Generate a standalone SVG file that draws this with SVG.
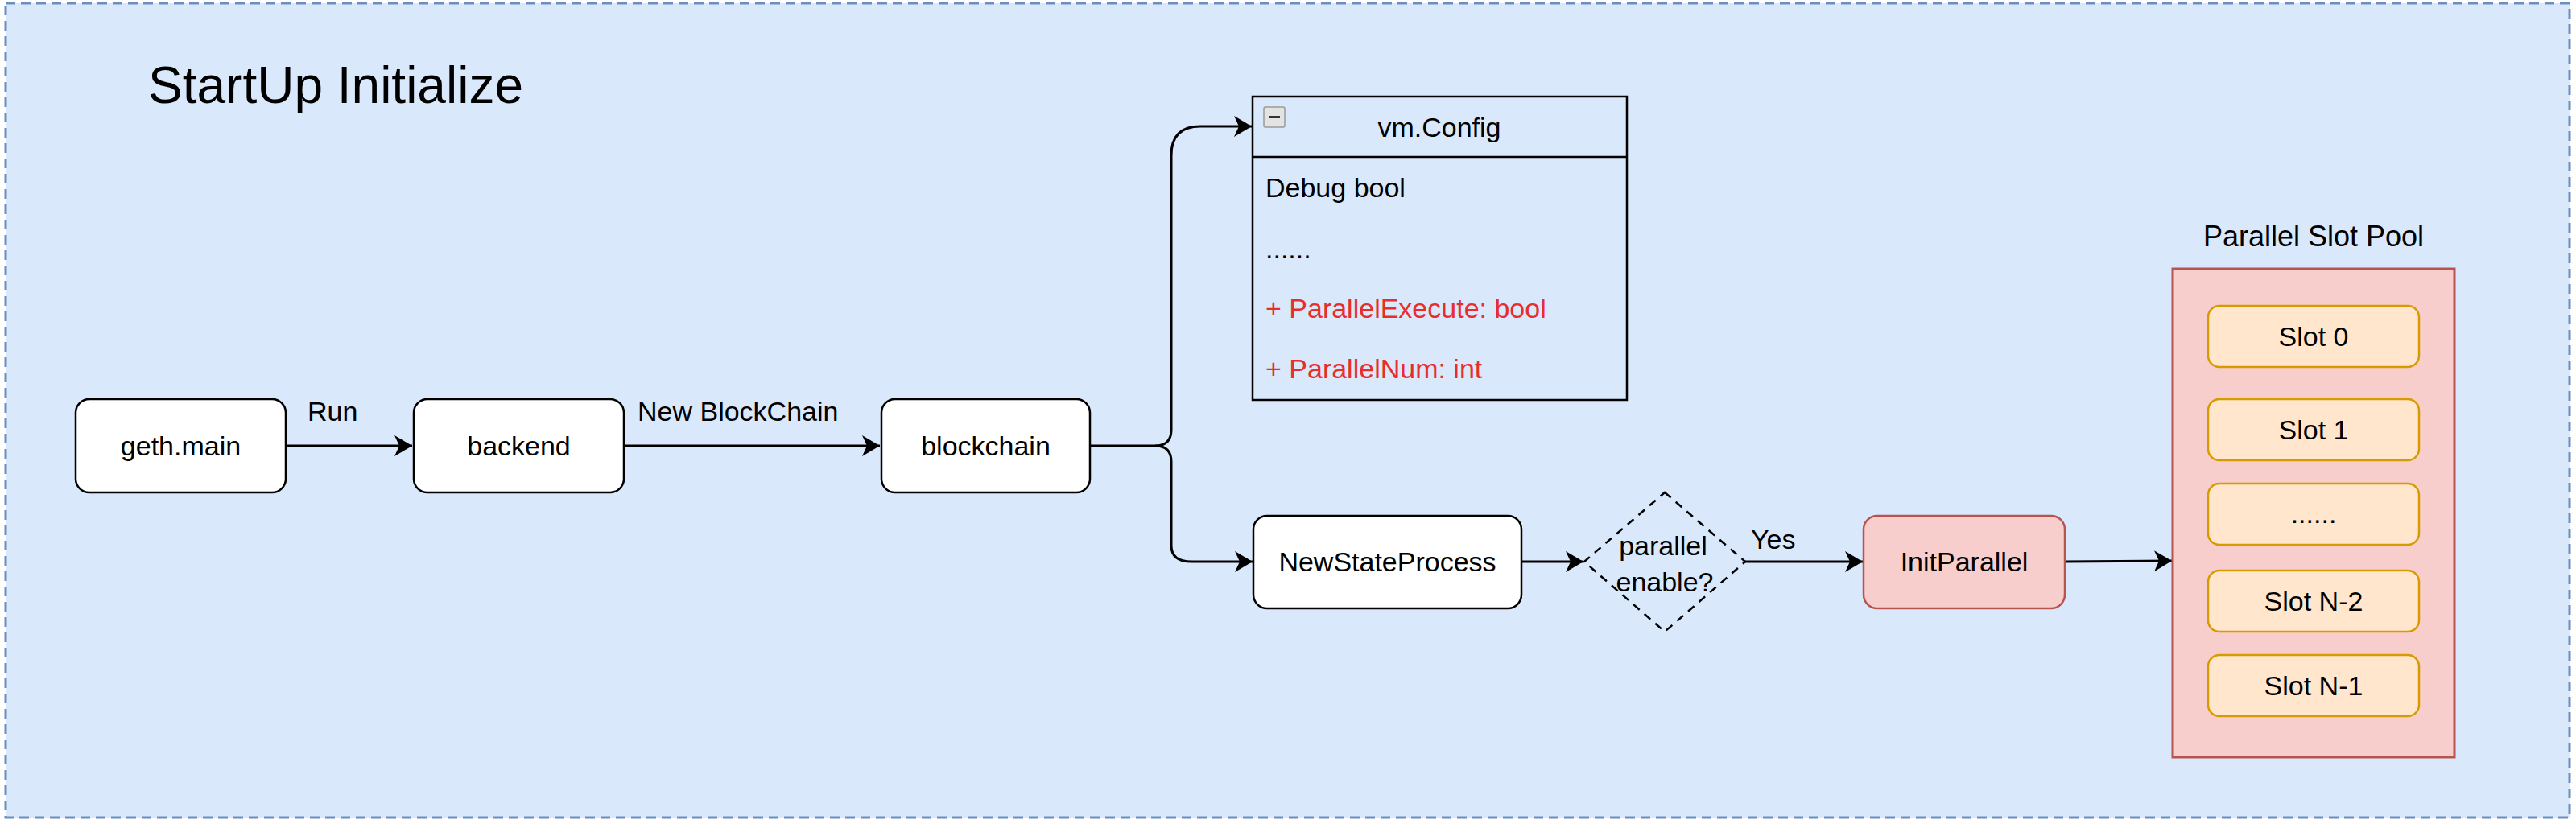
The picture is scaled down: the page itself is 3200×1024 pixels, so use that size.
<svg xmlns="http://www.w3.org/2000/svg" width="3200" height="1024" viewBox="0 0 3200 1024">
<style>
text{font-family:"Liberation Sans",Arial,Helvetica,sans-serif;fill:#000}
.lbl{font-size:34px}
.c{text-anchor:middle}
.node{fill:#fff;stroke:#000;stroke-width:2.5}
.conn{fill:none;stroke:#000;stroke-width:3}
.red{fill:#e82d2d}
.slot{fill:#ffe6cc;stroke:#d79b00;stroke-width:2.5}
</style>
<defs>
<marker id="arr" markerUnits="userSpaceOnUse" markerWidth="24" markerHeight="28" refX="22" refY="13" orient="auto" viewBox="0 0 24 28">
<path d="M0,0 L22,13 L0,26 L6,13 Z" fill="#000"/>
</marker>
</defs>
<rect x="0" y="0" width="3200" height="1024" fill="#fff"/>
<g id="container">
<rect x="7" y="4" width="3185" height="1012" fill="#dae8fc" stroke="#6c8ebf" stroke-width="3" stroke-dasharray="12 7"/>
<text x="184" y="128" font-size="64">StartUp Initialize</text>
</g>
<g id="connectors">
<path class="conn" d="M355,554 L512,554" marker-end="url(#arr)"/>
<text class="lbl" x="382" y="523">Run</text>
<path class="conn" d="M775,554 L1093,554" marker-end="url(#arr)"/>
<text class="lbl" x="792" y="523">New BlockChain</text>
<path class="conn" d="M1354,554 L1435,554 Q1455,554 1455,534 L1455,193 Q1455,157 1491,157 L1555,157" marker-end="url(#arr)"/>
<path class="conn" d="M1435,554 Q1455,554 1455,574 L1455,678 Q1455,698 1480,698 L1556,698" marker-end="url(#arr)"/>
<path class="conn" d="M1890,698 L1967,698" marker-end="url(#arr)"/>
<path class="conn" d="M2168,698 L2314,698" marker-end="url(#arr)"/>
<text class="lbl" x="2175" y="682">Yes</text>
<path class="conn" d="M2565,698 L2698,697" marker-end="url(#arr)"/>
</g>
<g id="geth-main">
<rect class="node" x="94" y="496" width="261" height="116" rx="17"/>
<text class="lbl c" x="224.5" y="566">geth.main</text>
</g>
<g id="backend">
<rect class="node" x="514" y="496" width="261" height="116" rx="17"/>
<text class="lbl c" x="644.5" y="566">backend</text>
</g>
<g id="blockchain">
<rect class="node" x="1095" y="496" width="259" height="116" rx="17"/>
<text class="lbl c" x="1224.5" y="566">blockchain</text>
</g>
<g id="vm-config">
<rect x="1556" y="120" width="465" height="377" fill="none" stroke="#000" stroke-width="2.5"/>
<line x1="1556" y1="195" x2="2021" y2="195" stroke="#000" stroke-width="2.5"/>
<rect x="1570" y="133" width="26" height="25" rx="2" fill="#e3e3e3" stroke="#9a9a9a" stroke-width="1.5"/>
<line x1="1576" y1="145.5" x2="1590" y2="145.5" stroke="#333" stroke-width="3"/>
<text class="lbl c" x="1788" y="170">vm.Config</text>
<text class="lbl" x="1572" y="245">Debug bool</text>
<text class="lbl" x="1572" y="321">......</text>
<text class="lbl red" x="1572" y="395">+ ParallelExecute: bool</text>
<text class="lbl red" x="1572" y="470">+ ParallelNum: int</text>
</g>
<g id="new-state-process">
<rect class="node" x="1557" y="641" width="333" height="115" rx="17"/>
<text class="lbl c" x="1723.5" y="710">NewStateProcess</text>
</g>
<g id="parallel-enable">
<path d="M2068,612 L2168,698 L2068,785 L1968,698 Z" fill="none" stroke="#000" stroke-width="2.5" stroke-dasharray="10 8"/>
<text class="lbl c" x="2066" y="690">parallel</text>
<text class="lbl c" x="2068" y="735">enable?</text>
</g>
<g id="init-parallel">
<rect x="2315" y="641" width="250" height="115" rx="17" fill="#f8cecc" stroke="#b85450" stroke-width="2.5"/>
<text class="lbl c" x="2440" y="710">InitParallel</text>
</g>
<g id="parallel-slot-pool">
<text class="c" x="2874" y="306" font-size="36">Parallel Slot Pool</text>
<rect x="2699" y="334" width="350" height="607" fill="#f8cecc" stroke="#b85450" stroke-width="3"/>
</g>
<g id="slot-0"><rect class="slot" x="2743" y="380" width="262" height="76" rx="14"/><text class="lbl c" x="2874" y="430">Slot 0</text></g>
<g id="slot-1"><rect class="slot" x="2743" y="496" width="262" height="76" rx="14"/><text class="lbl c" x="2874" y="546">Slot 1</text></g>
<g id="slot-dots"><rect class="slot" x="2743" y="601" width="262" height="76" rx="14"/><text class="lbl c" x="2874" y="650">......</text></g>
<g id="slot-n2"><rect class="slot" x="2743" y="709" width="262" height="76" rx="14"/><text class="lbl c" x="2874" y="759">Slot N-2</text></g>
<g id="slot-n1"><rect class="slot" x="2743" y="814" width="262" height="76" rx="14"/><text class="lbl c" x="2874" y="864">Slot N-1</text></g>
</svg>
